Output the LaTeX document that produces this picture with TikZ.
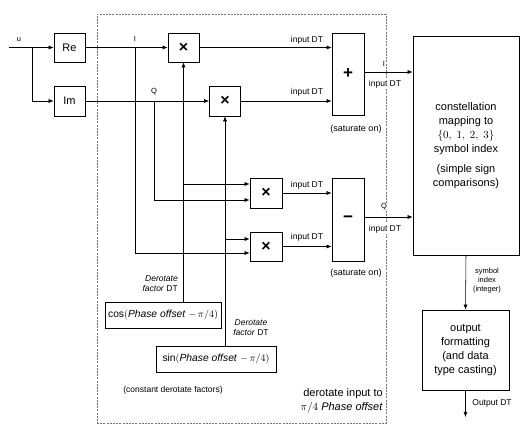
\documentclass[tikz,border=0pt]{standalone}
\usepackage{fontspec}
\setmainfont{Liberation Sans}
\usetikzlibrary{arrows.meta,calc}
\begin{document}
\begin{tikzpicture}[x=1pt,y=-1pt,
  box/.style={draw, line width=0.8pt, inner sep=0pt, align=center},
  arr/.style={-{Latex[length=5pt,width=4pt]}, line width=0.55pt},
  lbl/.style={font=\fontsize{8.5}{10}\selectfont, inner sep=1pt},
  tiny/.style={font=\fontsize{7.5}{9}\selectfont, inner sep=1pt},
  big/.style={font=\fontsize{11}{14}\selectfont},
  mul/.style={box, minimum width=31pt, minimum height=29pt, font=\bfseries\fontsize{16}{16}\selectfont},
  frame/.style={draw=black!55, line width=0.7pt, dash pattern=on 2pt off 1.2pt}]
\useasboundingbox (0,0) rectangle (531,435);
% dashed frame
\node[frame, minimum width=289pt, minimum height=409pt, inner sep=0pt] (frame) at (241.5,218.5) {};
% blocks
\node[box, big, minimum width=31pt, minimum height=29pt] (re) at (69.5,47.5) {Re};
\node[box, big, minimum width=31pt, minimum height=30pt] (im) at (69.5,101) {Im};
\node[mul] (m1) at (183.5,47.5) {×};
\node[mul, minimum height=30pt] (m2) at (225,101) {×};
\node[mul, minimum width=32pt, minimum height=30pt] (m3) at (266,193) {×};
\node[mul, minimum width=32pt] (m4) at (266,246.5) {×};
\node[box, minimum width=32pt, minimum height=82pt, font=\bfseries\fontsize{17}{17}\selectfont] (sum) at (348,74) {+};
\node[box, minimum width=32pt, minimum height=83pt, font=\bfseries\fontsize{17}{17}\selectfont] (dif) at (348,219.5) {−};
\node[box, big, minimum width=106pt, minimum height=219pt] (con) at (466,145.5)
  {constellation\\mapping to\\$\{0,\ 1,\ 2,\ 3\}$\\symbol index\\[6pt](simple sign\\comparisons)};
\node[box, big, minimum width=87pt, minimum height=80pt] (out) at (465.5,350)
  {output\\formatting\\(and data\\type casting)};
\node[box, minimum width=116pt, minimum height=26pt, font=\fontsize{10.3}{12}\selectfont] (cosb) at (163,315)
  {$\cos($\textit{Phase offset} $-\,\pi/4)$};
\node[box, minimum width=120pt, minimum height=26pt, font=\fontsize{10.3}{12}\selectfont] (sinb) at (216,359)
  {$\sin($\textit{Phase offset} $-\,\pi/4)$};
% coordinates
\coordinate (uin) at (9,47.5);
\coordinate (ub) at (32,47.5);
\coordinate (iT) at (135,47.5);
\coordinate (qT) at (154,101);
\coordinate (cb) at (183.5,184);
\coordinate (sb) at (225,239);
\coordinate (oend) at (465.5,417);
% connectors
\draw[arr] (uin) -- (re.west);
\draw[arr] (ub) |- (im.west);
\draw[arr] (re.east) -- (m1.west);
\draw[arr] (im.east) -- (m2.west);
\draw[arr] (iT) |- ([yshift=-6.5pt]m4.west);
\draw[arr] (qT) |- ([yshift=-7pt]m3.west);
\draw[arr] (m1.south |- cosb.north) -- (m1.south);
\draw[arr] (cb) -- ([yshift=9pt]m3.west);
\draw[arr] (m2.south |- sinb.north) -- (m2.south);
\draw[arr] (sb) -- ([yshift=7.5pt]m4.west);
\draw[arr] (m1.east) -- (m1.east -| sum.west);
\draw[arr] (m2.east) -- (m2.east -| sum.west);
\draw[arr] (m3.east) -- (m3.east -| dif.west);
\draw[arr] (m4.east) -- (m4.east -| dif.west);
\draw[arr] ($(sum.east)+(0,-2)$) -- ($(sum.east -| con.west)+(0,-2)$);
\draw[arr] ($(dif.east)+(0,-2.5)$) -- ($(dif.east -| con.west)+(0,-2.5)$);
\draw[arr] (con.south) -- (out.north);
\draw[arr] (out.south) -- (oend);
% labels
\node[tiny] (lu) at (19,40) {u};
\node[tiny] (li) at (135,39) {I};
\node[tiny] (lq) at (154,92) {Q};
\node[lbl] (d1) at (307,40) {input DT};
\node[lbl] (d2) at (307,92) {input DT};
\node[lbl] (d3) at (307,185) {input DT};
\node[lbl] (d4) at (307,237) {input DT};
\node[tiny, fill=white] (li2) at (384,64) {I};
\node[lbl, fill=white] (d5) at (385,84) {input DT};
\node[tiny, fill=white] (lq2) at (384,207) {Q};
\node[lbl, fill=white] (d6) at (385,229) {input DT};
\node[font=\fontsize{9}{10}\selectfont, inner sep=1pt] (s1) at (356,129) {(saturate on)};
\node[font=\fontsize{9}{10}\selectfont, inner sep=1pt] (s2) at (356,273) {(saturate on)};
\node[lbl, align=right, anchor=east] (f1) at (179,284) {\textit{Derotate}\\\textit{factor} DT};
\node[lbl, align=center] (f2) at (251,327.5) {\textit{Derotate}\\\textit{factor} DT};
\node[lbl] (cf) at (173,390) {(constant derotate factors)};
\node[big, align=right, anchor=east, inner sep=1pt] (dr) at (384,401) {derotate input to\\$\pi/4$ \textit{Phase offset}};
\node[tiny, align=center] (si) at (487,281) {symbol\\index\\(integer)};
\node[lbl] (od) at (492,403) {Output DT};
\end{tikzpicture}
\end{document}
